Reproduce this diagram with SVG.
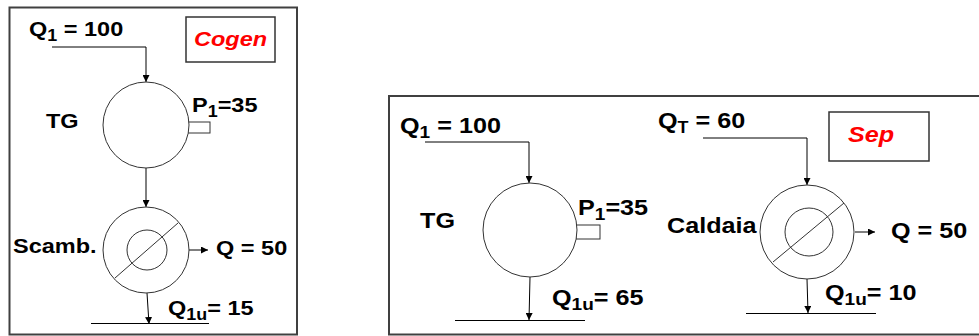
<svg xmlns="http://www.w3.org/2000/svg" width="979" height="336" viewBox="0 0 979 336">
<defs>
<marker id="ah" viewBox="0 0 10 10" refX="10" refY="5" markerWidth="7" markerHeight="7" markerUnits="userSpaceOnUse" orient="auto">
<path d="M0,0 L10,5 L0,10 z" fill="#000"/>
</marker>
<style>
.frame{fill:none;stroke:#404040;stroke-width:2}
.box{fill:#fff;stroke:#333;stroke-width:1.5}
.circ{fill:#fff;stroke:#333;stroke-width:1}
.ln{fill:none;stroke:#000;stroke-width:1}
.arr{fill:none;stroke:#000;stroke-width:1;marker-end:url(#ah)}
.t{font-family:"Liberation Sans",Arial,sans-serif;font-weight:bold;fill:#000}
.s{font-size:21px}
.b{font-size:22.5px}
.red{fill:#ff0000;font-style:italic}
</style>
</defs>
<rect width="979" height="336" fill="#fff"/>

<g id="panel-cogen">
<rect class="frame" x="9.5" y="7.5" width="287.5" height="327"/>
</g>
<g id="panel-sep">
<rect class="frame" x="389" y="96" width="600" height="238.5"/>
</g>

<g id="connectors">
<polyline class="arr" points="52,47 146,47 146,82"/>
<line class="arr" x1="146" y1="168" x2="146" y2="207"/>
<line class="arr" x1="189" y1="250" x2="208" y2="250"/>
<line class="arr" x1="147" y1="293" x2="149" y2="324"/>
<line class="ln" x1="91" y1="323.5" x2="209" y2="323.5"/>

<polyline class="arr" points="425,142 529,142 529,183"/>
<line class="arr" x1="530" y1="277" x2="529" y2="320"/>
<line class="ln" x1="455" y1="320.5" x2="585" y2="320.5"/>

<polyline class="arr" points="703,138 807,138 807,185"/>
<line class="arr" x1="855" y1="232" x2="875" y2="232"/>
<line class="arr" x1="807" y1="279" x2="808" y2="313"/>
<line class="ln" x1="746" y1="313.5" x2="876" y2="313.5"/>
</g>

<g id="label-cogen">
<rect class="box" x="186" y="17" width="89" height="45"/>
<text class="t s red" transform="translate(194,46) scale(1.12,1)">Cogen</text>
</g>

<g id="q1-cogen">
<text class="t s" transform="translate(29,36) scale(1.12,1)">Q<tspan font-size="16" dy="5">1</tspan><tspan dy="-5"> = 100</tspan></text>
</g>

<g id="tg-cogen">
<rect class="box" style="stroke-width:1" x="187" y="122" width="23" height="11"/>
<circle class="circ" cx="146" cy="125" r="43"/>
<text class="t s" transform="translate(46,128) scale(1.12,1)">TG</text>
<text class="t s" transform="translate(192,112) scale(1.12,1)">P<tspan font-size="16" dy="5">1</tspan><tspan dy="-5">=35</tspan></text>
</g>

<g id="scamb">
<circle class="circ" cx="146" cy="250" r="43"/>
<circle class="circ" cx="147" cy="250" r="20" fill="none"/>
<line class="ln" style="stroke:#333" x1="115" y1="278" x2="178" y2="223"/>
<text class="t s" transform="translate(13,253) scale(1.12,1)">Scamb.</text>
<text class="t s" transform="translate(216,255) scale(1.12,1)">Q = 50</text>
<text class="t s" transform="translate(168,315) scale(1.12,1)">Q<tspan font-size="16" dy="5">1u</tspan><tspan dy="-5">= 15</tspan></text>
</g>

<g id="label-sep">
<rect class="box" x="829" y="112" width="100" height="49"/>
<text class="t b red" transform="translate(848,142) scale(1.12,1)">Sep</text>
</g>

<g id="q1-sep">
<text class="t b" transform="translate(400,133) scale(1.12,1)">Q<tspan font-size="17" dy="5">1</tspan><tspan dy="-5"> = 100</tspan></text>
</g>

<g id="tg-sep">
<rect class="box" style="stroke-width:1" x="576" y="225" width="24" height="14"/>
<circle class="circ" cx="530" cy="230" r="47"/>
<text class="t b" transform="translate(420,228) scale(1.12,1)">TG</text>
<text class="t b" transform="translate(578,215) scale(1.12,1)">P<tspan font-size="17" dy="5">1</tspan><tspan dy="-5">=35</tspan></text>
<text class="t b" transform="translate(552,305) scale(1.12,1)">Q<tspan font-size="17" dy="5">1u</tspan><tspan dy="-5">= 65</tspan></text>
</g>

<g id="qt-sep">
<text class="t b" transform="translate(658,128) scale(1.12,1)">Q<tspan font-size="16" dy="5">T</tspan><tspan dy="-5"> = 60</tspan></text>
</g>

<g id="caldaia">
<circle class="circ" cx="807" cy="232" r="47"/>
<circle class="circ" cx="809" cy="232" r="24" fill="none"/>
<line class="ln" style="stroke:#333" x1="773" y1="262" x2="844" y2="203"/>
<text class="t b" transform="translate(667,233) scale(1.12,1)">Caldaia</text>
<text class="t b" transform="translate(891,238) scale(1.12,1)">Q = 50</text>
<text class="t b" transform="translate(825,300) scale(1.12,1)">Q<tspan font-size="17" dy="5">1u</tspan><tspan dy="-5">= 10</tspan></text>
</g>
</svg>
